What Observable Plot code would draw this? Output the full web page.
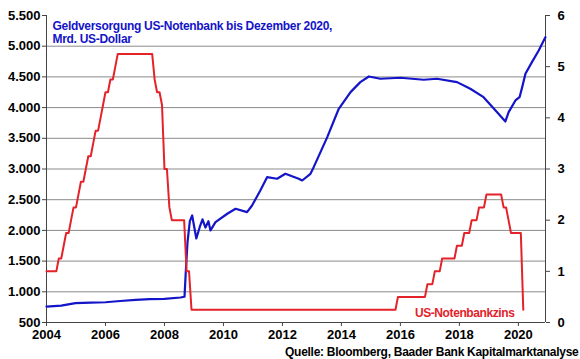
<!DOCTYPE html>
<html>
<head>
<meta charset="utf-8">
<script src="https://cdn.jsdelivr.net/npm/d3@7"></script>
<script src="https://cdn.jsdelivr.net/npm/@observablehq/plot@0.6"></script>
<style>
  html, body { margin: 0; padding: 0; background: #fff; }
  #chart { width: 580px; height: 359px; }
</style>
</head>
<body>
<div id="chart"></div>
<script>
// Geldversorgung (Mrd. US-Dollar), decimal years
const moneyYears = [2004.0, 2004.5, 2004.98, 2005.5, 2006.0, 2006.5, 2007.02, 2007.5, 2008.0, 2008.54, 2008.68, 2008.72, 2008.78, 2008.86, 2008.94, 2009.0, 2009.08, 2009.2, 2009.29, 2009.39, 2009.49, 2009.56, 2009.73, 2010.13, 2010.41, 2010.8, 2010.97, 2011.25, 2011.48, 2011.82, 2012.1, 2012.55, 2012.67, 2012.95, 2013.06, 2013.52, 2013.91, 2014.31, 2014.64, 2014.93, 2015.32, 2016.0, 2016.79, 2017.24, 2017.92, 2018.37, 2018.82, 2019.28, 2019.56, 2019.67, 2019.9, 2020.04, 2020.13, 2020.24, 2020.46, 2020.69, 2020.92];
const moneyValues = [760, 775, 815, 825, 830, 850, 870, 880, 886, 907, 920, 1300, 1800, 2150, 2243, 2080, 1868, 2060, 2180, 2047, 2150, 2000, 2134, 2271, 2352, 2297, 2406, 2650, 2867, 2841, 2922, 2841, 2813, 2922, 3030, 3519, 3981, 4252, 4415, 4507, 4470, 4486, 4454, 4470, 4415, 4307, 4170, 3926, 3774, 3926, 4116, 4170, 4333, 4551, 4741, 4931, 5148];

// US-Notenbankzins (%), monthly
const rateMonths = ["2004-01","2004-05","2004-06","2004-07","2004-08","2004-09","2004-10","2004-11","2004-12","2005-01","2005-02","2005-03","2005-04","2005-05","2005-06","2005-07","2005-08","2005-09","2005-10","2005-11","2005-12","2006-01","2006-02","2006-03","2006-04","2006-05","2006-06","2007-08","2007-09","2007-10","2007-11","2007-12","2008-01","2008-02","2008-03","2008-04","2008-09","2008-10","2008-11","2008-12","2015-11","2015-12","2016-11","2016-12","2017-02","2017-03","2017-05","2017-06","2017-11","2017-12","2018-02","2018-03","2018-05","2018-06","2018-08","2018-09","2018-11","2018-12","2019-06","2019-07","2019-08","2019-09","2019-10","2020-02","2020-03"];
const rateValues = [1.0,1.0,1.25,1.25,1.5,1.75,1.75,2.0,2.25,2.25,2.5,2.75,2.75,3.0,3.25,3.25,3.5,3.75,3.75,4.0,4.25,4.5,4.5,4.75,4.75,5.0,5.25,5.25,4.75,4.5,4.5,4.25,3.0,3.0,2.25,2.0,2.0,1.0,1.0,0.25,0.25,0.5,0.5,0.75,0.75,1.0,1.0,1.25,1.25,1.5,1.5,1.75,1.75,2.0,2.0,2.25,2.25,2.5,2.5,2.25,2.25,2.0,1.75,1.75,0.25];

const leftTicks = [500, 1000, 1500, 2000, 2500, 3000, 3500, 4000, 4500, 5000, 5500];
const rightTicks = [0, 1, 2, 3, 4, 5, 6];
const xTicks = [2004, 2006, 2008, 2010, 2012, 2014, 2016, 2018, 2020];
const xDomain = [2004, 2020.92];

const titleText = "Geldversorgung US-Notenbank bis Dezember 2020,\nMrd. US-Dollar";
const rateLabel = "US-Notenbankzins";
const captionText = "Quelle: Bloomberg, Baader Bank Kapitalmarktanalyse";

const blue = "#1414c8";
const red = "#e3222a";

// right axis (0..6) mapped onto left axis (500..5500)
const rateToLeft = r => 500 + r * 5000 / 6;
const deFmt = d3.formatLocale({decimal: ",", thousands: ".", grouping: [3], currency: ["", ""]}).format(",");

const money = moneyYears.map((x, i) => ({x, v: moneyValues[i]}));
const rates = rateMonths.map((m, i) => {
  const [yy, mm] = m.split("-").map(Number);
  return {x: yy + (mm - 1) / 12, v: rateToLeft(rateValues[i])};
});

const chart = Plot.plot({
  width: 580,
  height: 359,
  marginLeft: 46,
  marginRight: 35,
  marginTop: 15,
  marginBottom: 37,
  x: {domain: xDomain},
  y: {domain: [500, 5500]},
  style: {fontFamily: "'Liberation Sans', Arial, sans-serif", fontSize: "13px", fontWeight: "bold", color: "#000", background: "#fff", overflow: "visible"},
  marks: [
    Plot.ruleY(leftTicks.slice(1, -1), {stroke: "#8a8a8a", strokeWidth: 1, strokeOpacity: 1}),
    Plot.axisY(leftTicks, {anchor: "left", tickFormat: deFmt, tickSize: 4, tickPadding: 2, label: null, fontSize: 13, fontWeight: "bold", stroke: "#444"}),
    Plot.axisY(rightTicks.map(rateToLeft), {anchor: "right", tickFormat: d => String(Math.round((d - 500) * 6 / 5000)), tickSize: 4, tickPadding: 8, label: null, fontSize: 13, fontWeight: "bold", stroke: "#444"}),
    Plot.axisX(xTicks, {tickFormat: "d", tickSize: 4, tickPadding: 3, label: null, fontSize: 13, fontWeight: "bold", stroke: "#444"}),
    Plot.ruleX([xDomain[0]], {stroke: "#444"}),
    Plot.ruleX([xDomain[1]], {stroke: "#444"}),
    Plot.ruleY([500], {stroke: "#444"}),
    Plot.line(money, {x: "x", y: "v", stroke: blue, strokeWidth: 2.2}),
    Plot.line(rates, {x: "x", y: "v", stroke: red, strokeWidth: 2}),
    Plot.text([titleText], {frameAnchor: "top-left", dx: 6, dy: 5, lineAnchor: "top", textAnchor: "start", fill: blue, fontSize: 12, fontWeight: "bold", lineHeight: 1.1}),
    Plot.text([rateLabel], {frameAnchor: "bottom-right", dx: -31, dy: -9, lineAnchor: "middle", textAnchor: "end", fill: red, fontSize: 12, fontWeight: "bold"}),
    Plot.text([captionText], {frameAnchor: "bottom-right", dx: 33, dy: 30, lineAnchor: "middle", textAnchor: "end", fill: "#000", fontSize: 12, fontWeight: "bold"})
  ]
});
// tighten letter spacing of the annotation texts to match the reference
chart.querySelectorAll("text").forEach(t => {
  const s = t.textContent;
  if (s.startsWith("Geldversorgung") || s.startsWith("Mrd.")) t.style.letterSpacing = "-0.3px";
  if (s.startsWith("Quelle")) t.style.letterSpacing = "-0.28px";
  if (s.startsWith("US-Notenbankzins")) t.style.letterSpacing = "-0.4px";
});
document.getElementById("chart").appendChild(chart);
</script>
</body>
</html>
